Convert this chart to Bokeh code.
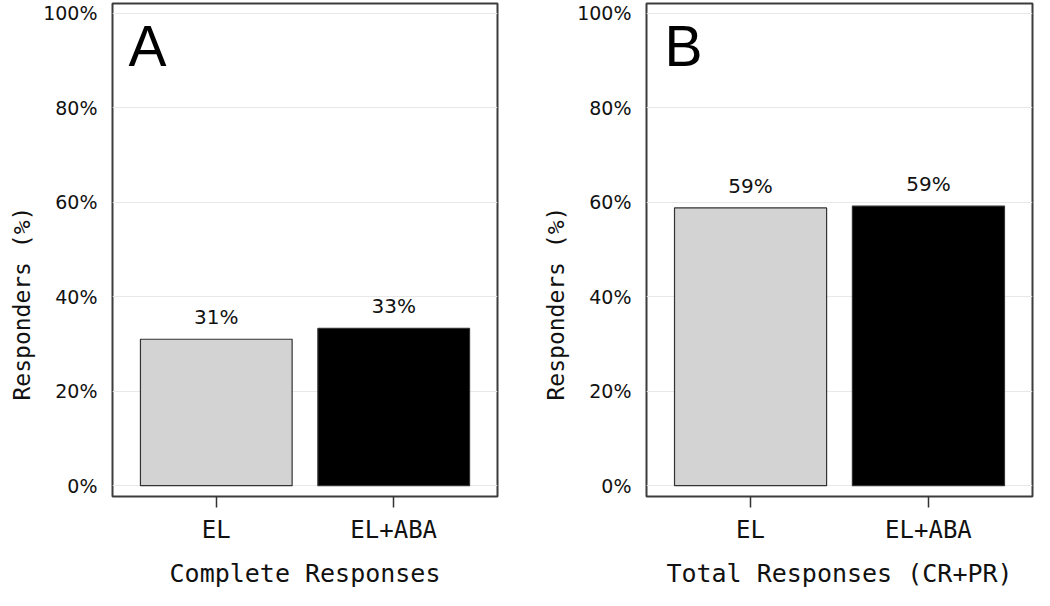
from bokeh.plotting import figure
from bokeh.models import (FactorRange, Range1d, Label, Title, PrintfTickFormatter,
                          FixedTicker, ColumnDataSource)
from bokeh.layouts import row
from bokeh.embed import file_html
from bokeh.resources import INLINE
from bokeh.core.properties import value

# ---- data ----
categories = ["EL", "EL+ABA"]
complete_values = [31.0, 33.3]
total_values = [58.8, 59.2]
bar_colors = ["#d3d3d3", "#000000"]
y_ticks = [0, 20, 40, 60, 80, 100]
panel_letters = ["A", "B"]
x_titles = ["Complete Responses", "Total Responses (CR+PR)"]
y_title = "Responders (%)"

MONO = "DejaVu Sans Mono"
SANS = "DejaVu Sans"
PAD = 0.085  # absolute factor-range padding on each side
Y0, Y1 = -2.3, 102.1


def panel(vals, letter, xtitle, width, frame_w, left, right, letter_dx):
    src = ColumnDataSource(dict(
        cat=categories, val=vals, color=bar_colors,
        lab=[f"{round(v)}%" for v in vals]))
    p = figure(x_range=FactorRange(factors=categories, range_padding=PAD,
                                   range_padding_units="absolute"),
               y_range=Range1d(Y0, Y1),
               width=width, height=590,
               min_border_left=left, min_border_right=right,
               min_border_top=3, min_border_bottom=90,
               output_backend="svg", toolbar_location=None)
    p.vbar(x="cat", top="val", width=0.855, source=src,
           fill_color="color", line_color="#333333", line_width=1.2)
    p.text(x="cat", y="val", text="lab", source=src, y_offset=-22,
           text_align="center", text_baseline="middle",
           text_font=value(SANS), text_font_size="20px", text_color="#111111")

    # axes
    p.yaxis.ticker = FixedTicker(ticks=y_ticks)
    p.yaxis.formatter = PrintfTickFormatter(format="%d%%")
    p.yaxis.major_tick_line_color = None
    p.yaxis.minor_tick_line_color = None
    p.yaxis.axis_line_color = None
    p.yaxis.major_label_standoff = 9
    p.yaxis.major_label_text_font = SANS
    p.yaxis.major_label_text_font_size = "19px"
    p.yaxis.major_label_text_color = "#111111"

    p.xaxis.axis_line_color = None
    p.xaxis.major_tick_out = 11
    p.xaxis.major_tick_in = 0
    p.xaxis.major_tick_line_color = "#333333"
    p.xaxis.major_tick_line_width = 1.5
    p.xaxis.major_label_standoff = 8
    p.xaxis.major_label_text_font = MONO
    p.xaxis.major_label_text_font_size = "24px"
    p.xaxis.major_label_text_color = "#111111"
    p.xaxis.axis_label = xtitle
    p.xaxis.axis_label_standoff = 12
    p.xaxis.axis_label_text_font = MONO
    p.xaxis.axis_label_text_font_size = "25px"
    p.xaxis.axis_label_text_font_style = "normal"
    p.xaxis.axis_label_text_color = "#111111"

    p.xgrid.grid_line_color = None
    p.ygrid.grid_line_color = "#e8e8e8"
    p.ygrid.grid_line_width = 1

    p.outline_line_color = "#3c3c3c"
    p.outline_line_width = 2
    p.outline_line_alpha = 1
    p.background_fill_color = "white"
    p.border_fill_color = "white"

    # y-axis title, placed in the left side panel
    p.add_layout(Title(text=y_title, align="left", offset=96,
                       text_font=MONO, text_font_size="23px",
                       text_font_style="normal", text_color="#111111",
                       standoff=12), "left")

    px_per_unit = frame_w / (len(categories) + 2 * PAD)
    x_start = -PAD
    # panel letter
    p.add_layout(Label(x=x_start + letter_dx / px_per_unit, y=93.2, text=letter,
                       text_align="left", text_baseline="alphabetic",
                       text_font="Liberation Sans", text_font_size="57px",
                       text_color="#000000"))
    return p


pa = panel(complete_values, panel_letters[0], x_titles[0],
           width=520, frame_w=386, left=111, right=23, letter_dx=16)
pb = panel(total_values, panel_letters[1], x_titles[1],
           width=514, frame_w=386, left=126, right=2, letter_dx=18)

layout = row(pa, pb)
open("out.html", "w").write(file_html(layout, INLINE))
